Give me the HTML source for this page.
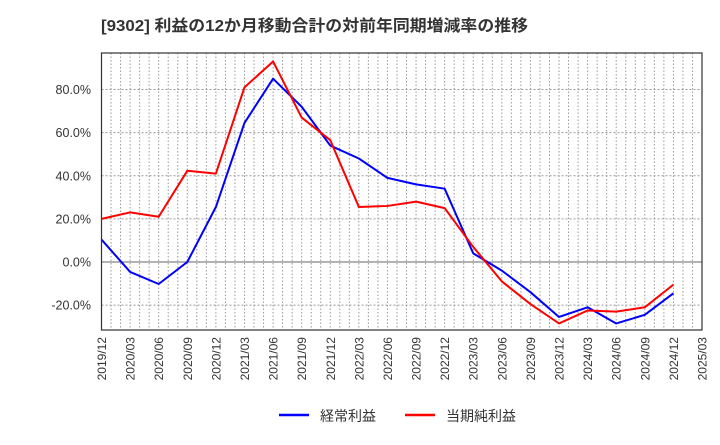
<!DOCTYPE html>
<html><head><meta charset="utf-8"><style>
body{margin:0;background:#fff;}
svg text{font-family:"Liberation Sans","Noto Sans CJK JP",sans-serif;fill:#333;}
</style></head><body>
<svg id="c" width="720" height="440" xmlns="http://www.w3.org/2000/svg">
<text x="101" y="31" font-size="16" font-weight="bold" textLength="427" lengthAdjust="spacingAndGlyphs">[9302]  利益の12か月移動合計の対前年同期増減率の推移</text>
<g id="grid"></g><g id="series"></g><g id="axes"></g>
<g>
<line x1="279" y1="415" x2="309" y2="415" stroke="#0000ff" stroke-width="2.5"/>
<text x="320" y="421" font-size="14">経常利益</text>
<line x1="405" y1="415" x2="435" y2="415" stroke="#ff0000" stroke-width="2.5"/>
<text x="446" y="421" font-size="14">当期純利益</text>
</g>
</svg>
<script>
const categories=["2019/12","2020/03","2020/06","2020/09","2020/12","2021/03","2021/06","2021/09","2021/12","2022/03","2022/06","2022/09","2022/12","2023/03","2023/06","2023/09","2023/12","2024/03","2024/06","2024/09","2024/12","2025/03"];
const ordinaryProfit=[10.4,-4.6,-10.2,0,25.5,64.5,85,72,54,48,39,36,34,4,-4,-14,-25.5,-21,-28.5,-24.5,-14.5];
const netProfit=[20,23,21,42.3,41,81,93,67,56.5,25.5,26,28,25,7,-9,-19.5,-28.5,-22.5,-23,-21,-10.5];
const yTicks=[-20,0,20,40,60,80];
const L=101.5,R=702,T=53,B=330;
const NS="http://www.w3.org/2000/svg";
const xs=i=>L+(R-L)*i/(categories.length-1);
const ys=v=>262-v*(262-89.5)/80;
function mk(tag,attrs,parent){const e=document.createElementNS(NS,tag);for(const k in attrs)e.setAttribute(k,attrs[k]);parent.appendChild(e);return e;}
const grid=document.getElementById('grid'),axes=document.getElementById('axes'),ser=document.getElementById('series');
const nMonths=(categories.length-1)*3;
for(let m=1;m<nMonths;m++){const x=L+(R-L)*m/nMonths;
const g=mk('line',{x1:x,x2:x,y1:T,y2:B,stroke:'#999','stroke-dasharray':'1.5,2','stroke-width':1},grid);

}
yTicks.forEach(v=>{const y=ys(v);
const g=mk('line',{x1:L,x2:R,y1:y,y2:y,stroke:v===0?'#666':'#999','stroke-dasharray':v===0?'none':'2,2','stroke-width':1},grid);


const t=mk('text',{x:91,y:y+4.5,'text-anchor':'end','font-size':12.5},axes);t.textContent=v.toFixed(1)+'%';

});
const fr=mk('rect',{x:L,y:T,width:R-L,height:B-T,fill:'none',stroke:'#333','stroke-width':1.2},axes);


categories.forEach((c,i)=>{const x=xs(i)+4.5;
const t=mk('text',{x:x,y:337,'text-anchor':'end','font-size':12,transform:`rotate(-90 ${x} 337)`},axes);t.textContent=c;

});
function line(data,color,name){const p=mk('polyline',{points:data.map((v,i)=>xs(i)+','+ys(v)).join(' '),fill:'none',stroke:color,'stroke-width':2,'stroke-linejoin':'round'},ser);

}
line(ordinaryProfit,'#0000ff','ordinary-profit-line');
line(netProfit,'#ff0000','net-profit-line');
</script>
</body></html>
